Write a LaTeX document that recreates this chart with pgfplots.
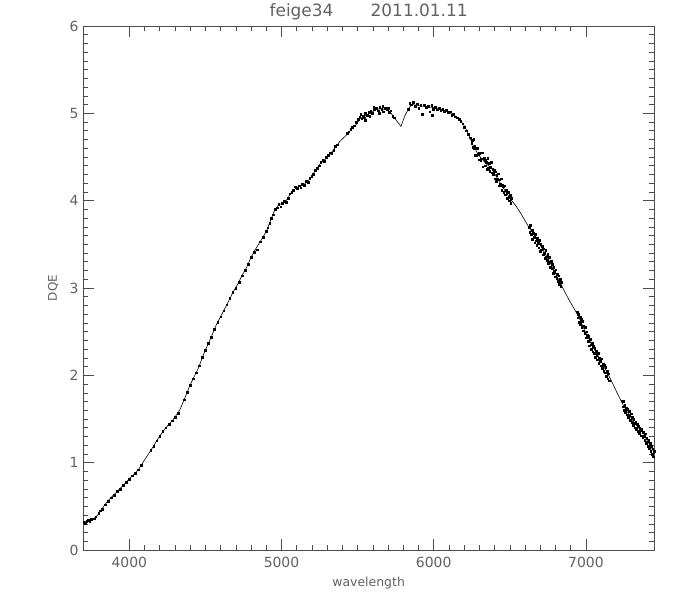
\documentclass[border=0pt]{standalone}
\usepackage{fontspec}
\setmainfont{DejaVu Sans}
\usepackage{pgfplots}
\pgfplotsset{compat=1.18}
\definecolor{txt}{gray}{0.38}
\definecolor{axc}{gray}{0.3}
\begin{document}
\begin{tikzpicture}
\begin{axis}[
 scale only axis, width=571.3bp, height=524bp,
 xmin=3696, xmax=7449, ymin=0, ymax=6,
 xtick={4000,5000,6000,7000}, ytick={0,1,2,3,4,5,6},
 minor x tick num=9, minor y tick num=9,
 tick align=inside,
 major tick length=11bp, minor tick length=5.5bp,
 axis line style={axc, line width=0.7bp},
 every tick/.style={axc, line width=0.6bp},
 /pgf/number format/assume math mode=true,
 /pgf/number format/1000 sep={},
 ticklabel style={font=\fontsize{14}{16}\selectfont, text=txt},
 xticklabel style={yshift=-4bp},
 yticklabel style={xshift=-1bp},
 xlabel={wavelength}, ylabel={DQE},
 xlabel style={font=\fontsize{12.5}{15}\selectfont, text=txt, at={(axis description cs:0.5,-0.063)}, anchor=center},
 ylabel style={font=\fontsize{12}{15}\selectfont, text=txt, at={(axis description cs:-0.0520,0.5)}, anchor=center},
 clip=false,
]
\addplot[black, line width=0.6bp] coordinates {
(3696,0.32) (3730,0.33) (3760,0.35) (3793,0.40) (3820,0.47) (3849,0.54) (3880,0.60) (3915,0.66)
(3960,0.74) (4003,0.82) (4040,0.88) (4068,0.94) (4100,1.03) (4145,1.15) (4180,1.25) (4222,1.36)
(4260,1.44) (4287,1.49) (4331,1.60) (4365,1.74) (4397,1.88) (4425,1.98) (4451,2.07) (4475,2.18)
(4495,2.27) (4539,2.44) (4572,2.58) (4605,2.69) (4638,2.80) (4675,2.93) (4714,3.05) (4740,3.14)
(4769,3.23) (4800,3.35) (4824,3.43) (4860,3.53) (4901,3.65) (4925,3.76) (4950,3.87) (4979,3.95)
(5023,3.98) (5067,4.10) (5100,4.15) (5144,4.18) (5187,4.25) (5220,4.34) (5253,4.42) (5290,4.48)
(5319,4.53) (5350,4.60) (5384,4.68) (5420,4.74) (5450,4.80) (5490,4.87) (5516,4.94) (5560,4.98)
(5600,5.02) (5626,5.05) (5660,5.05) (5691,5.04) (5720,5.00) (5750,4.93) (5785,4.85) (5810,4.97)
(5840,5.07) (5860,5.10) (5900,5.09) (5933,5.08) (5980,5.07) (6020,5.06) (6060,5.04) (6108,5.00)
(6140,4.97) (6174,4.92) (6200,4.86) (6218,4.80) (6240,4.71) (6262,4.62) (6285,4.55) (6305,4.50)
(6340,4.43) (6380,4.37) (6410,4.28) (6437,4.20) (6470,4.11) (6503,4.02) (6540,3.94) (6570,3.86)
(6600,3.77) (6634,3.67) (6670,3.58) (6700,3.49) (6730,3.40) (6765,3.29) (6800,3.17) (6831,3.06)
(6860,2.96) (6890,2.86) (6920,2.77) (6952,2.67) (6990,2.52) (7029,2.38) (7060,2.28) (7094,2.18)
(7120,2.09) (7149,2.00) (7180,1.89) (7210,1.78) (7247,1.65) (7280,1.56) (7313,1.47) (7345,1.40)
(7379,1.33) (7410,1.23) (7434,1.16) (7449,1.11)
};
\addplot[only marks, mark=square*, mark size=0.85bp, black] coordinates {
(3700,0.32) (3710,0.31) (3720,0.33) (3730,0.34) (3740,0.33) (3750,0.35) (3760,0.36) (3770,0.36) (3780,0.38) (3800,0.42) (3810,0.45) (3820,0.47) (3840,0.52)
(3860,0.56) (3880,0.60) (3900,0.63) (3920,0.67) (3940,0.70) (3960,0.74) (3980,0.78) (4000,0.81)
(4020,0.85) (4040,0.88) (4060,0.92) (4080,0.97) (4140,1.14) (4160,1.19) (4180,1.25) (4200,1.30)
(4220,1.36) (4240,1.40) (4260,1.44) (4280,1.48) (4300,1.52) (4320,1.57) (4360,1.72) (4380,1.81)
(4400,1.89) (4420,1.96) (4440,2.03) (4460,2.11) (4480,2.21) (4500,2.29) (4520,2.37) (4540,2.44)
(4560,2.53) (4580,2.61) (4600,2.67) (4620,2.74) (4640,2.81) (4660,2.88) (4680,2.95) (4700,3.00)
(4720,3.07) (4740,3.14) (4760,3.20) (4780,3.27) (4800,3.35) (4820,3.41) (4840,3.44) (4860,3.53)
(4880,3.58) (4900,3.65)
(4910,3.69) (4922,3.74) (4934,3.80) (4946,3.84) (4958,3.90) (4970,3.92) (4982,3.96) (4994,3.93)
(5006,3.97) (5018,3.99) (5030,3.98) (5042,4.03) (5054,4.08) (5066,4.10) (5078,4.12) (5090,4.16)
(5102,4.14) (5114,4.17) (5126,4.15) (5138,4.19) (5150,4.18) (5162,4.22) (5174,4.21) (5186,4.26)
(5198,4.28) (5210,4.30) (5222,4.35) (5234,4.37) (5246,4.40) (5258,4.44) (5270,4.46) (5282,4.45)
(5294,4.50) (5306,4.52) (5318,4.55) (5330,4.54) (5342,4.58) (5354,4.62) (5366,4.64) (5430,4.77)
(5442,4.79) (5454,4.82) (5466,4.84) (5478,4.86) (5490,4.90) (5502,4.93) (5514,4.96) (5526,4.94)
(5538,4.97) (5550,5.00) (5562,4.98) (5574,5.01) (5586,5.03) (5598,5.00) (5610,5.04) (5622,5.06)
(5634,5.03) (5646,5.07) (5658,5.05) (5670,5.02) (5682,5.06) (5694,5.04) (5706,5.01) (5718,5.03)
(5730,4.97) (5742,4.95) (5830,5.05) (5842,5.12) (5854,5.10) (5866,5.13) (5878,5.08) (5890,5.11)
(5520,4.99) (5545,4.95) (5580,4.97) (5605,5.07) (5640,5.00) (5665,5.08) (5700,5.06) (5548,4.92)
(5902,5.06) (5914,5.09) (5926,4.99) (5938,5.10) (5950,5.07) (5962,5.08) (5974,5.02) (5986,5.09)
(5990,4.98) (5998,5.05) (6010,5.07) (6022,5.04) (6034,5.06) (6046,5.03) (6058,5.05) (6070,5.02)
(6082,5.04) (6094,5.01) (6106,5.02) (6118,4.98) (6130,4.99) (6142,4.96) (6154,4.95) (6166,4.93)
(6178,4.91) (6190,4.88) (6202,4.84) (6214,4.80) (6226,4.76) (6238,4.72) (6250,4.66)
(6252,4.69) (6257,4.61) (6262,4.70) (6266,4.60) (6270,4.62) (6274,4.52) (6279,4.60) (6283,4.52)
(6288,4.60) (6292,4.53) (6296,4.47) (6300,4.54) (6305,4.55) (6309,4.46) (6313,4.48) (6318,4.55)
(6322,4.39) (6327,4.48) (6331,4.49) (6336,4.40) (6340,4.46) (6345,4.44) (6350,4.36) (6354,4.49)
(6359,4.37) (6364,4.43) (6368,4.34) (6373,4.38) (6378,4.44) (6382,4.32) (6387,4.36) (6392,4.30)
(6396,4.35) (6401,4.25) (6405,4.33) (6410,4.22) (6414,4.29) (6419,4.25) (6424,4.31) (6428,4.17)
(6433,4.24) (6437,4.19) (6442,4.25) (6447,4.12) (6451,4.18) (6456,4.16) (6460,4.10) (6465,4.17)
(6470,4.07) (6474,4.12) (6479,4.09) (6483,4.03) (6488,4.10) (6492,4.04) (6497,4.00) (6501,4.06)
(6506,3.97) (6510,4.03)
(6626,3.70) (6631,3.64) (6636,3.72) (6640,3.62) (6645,3.66) (6649,3.56) (6654,3.63) (6658,3.58)
(6663,3.52) (6667,3.62) (6672,3.54) (6676,3.49) (6681,3.57) (6685,3.51) (6690,3.46) (6694,3.55)
(6699,3.42) (6703,3.50) (6708,3.44) (6712,3.48) (6717,3.38) (6721,3.45) (6726,3.40) (6730,3.34)
(6735,3.43) (6739,3.36) (6744,3.32) (6748,3.39) (6753,3.28) (6757,3.35) (6762,3.30) (6766,3.24)
(6771,3.31) (6775,3.22) (6780,3.27) (6784,3.17) (6789,3.24) (6793,3.19) (6798,3.13) (6802,3.21)
(6807,3.11) (6811,3.16) (6816,3.08) (6820,3.14) (6825,3.04) (6829,3.10) (6834,3.02) (6838,3.07)
(6942,2.73) (6946,2.66) (6951,2.70) (6955,2.61) (6960,2.67) (6964,2.58) (6968,2.64) (6973,2.55)
(6977,2.62) (6982,2.51) (6986,2.57) (6991,2.48) (6995,2.55) (7000,2.43) (7004,2.50) (7008,2.46)
(7013,2.39) (7017,2.45) (7022,2.34) (7026,2.41) (7031,2.35) (7035,2.30) (7040,2.37) (7044,2.27)
(7048,2.33) (7053,2.25) (7057,2.31) (7062,2.21) (7066,2.28) (7071,2.23) (7075,2.18) (7080,2.25)
(7084,2.14) (7089,2.20) (7093,2.16) (7098,2.11) (7102,2.19) (7107,2.08) (7111,2.13) (7116,2.05)
(7120,2.12) (7125,2.03) (7129,2.09) (7134,1.99) (7138,2.05) (7143,1.96) (7147,2.02) (7152,1.94)
(7237,1.71) (7241,1.64) (7246,1.70) (7250,1.60) (7255,1.66) (7259,1.58) (7264,1.63) (7268,1.55)
(7273,1.61) (7277,1.52) (7282,1.59) (7286,1.54) (7291,1.49) (7295,1.56) (7300,1.46) (7304,1.52)
(7309,1.43) (7313,1.50) (7318,1.45) (7322,1.40) (7327,1.47) (7331,1.38) (7336,1.44) (7340,1.36)
(7345,1.42) (7349,1.34) (7354,1.40) (7358,1.37) (7363,1.31) (7367,1.38) (7372,1.29) (7376,1.35)
(7381,1.30) (7385,1.26) (7390,1.33) (7394,1.22) (7399,1.28) (7403,1.24) (7408,1.19) (7412,1.26)
(7417,1.16) (7421,1.22) (7426,1.13) (7430,1.19) (7435,1.10) (7439,1.16) (7444,1.07) (7448,1.13)
};
\node[font=\fontsize{17}{20}\selectfont, text=txt, anchor=center] at (rel axis cs:0.5,1.0267) {feige34\hspace{2.2em}2011.01.11};
\end{axis}
\pgfresetboundingbox
\path[use as bounding box] (current axis.south west) ++(-83bp,-53bp) rectangle ++(679bp,603bp);
\end{tikzpicture}
\end{document}
